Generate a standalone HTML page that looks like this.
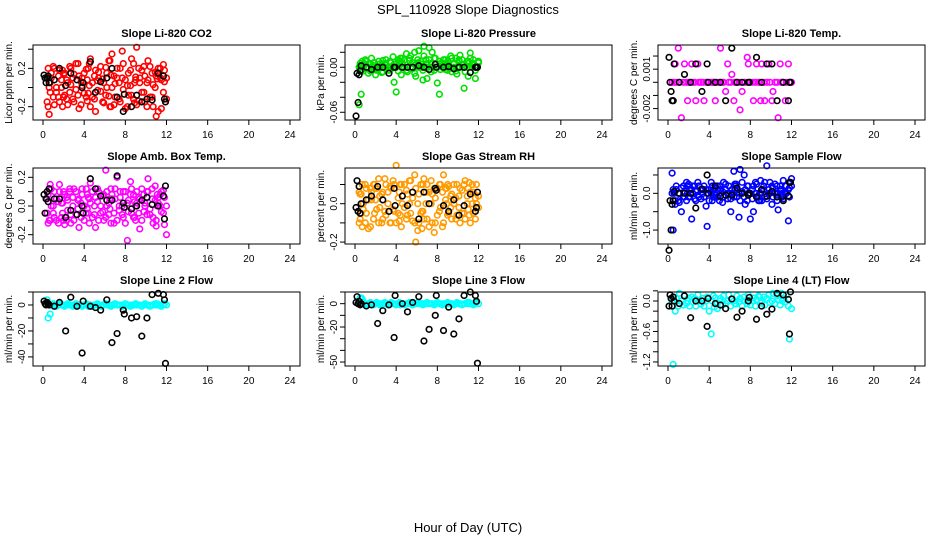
<!DOCTYPE html>
<html><head><meta charset="utf-8">
<style>
body{margin:0;background:#fff;}
svg{display:block;font-family:"Liberation Sans",Arial,sans-serif;}
</style></head>
<body>
<svg id="chart" width="936" height="540" viewBox="0 0 936 540">
<text x="468" y="14" text-anchor="middle" font-size="13">SPL_110928  Slope Diagnostics</text>
<text x="468" y="532" text-anchor="middle" font-size="13">Hour of Day (UTC)</text>
</svg>
<script>
const xTicks = [0,4,8,12,16,20,24];
const hoursC = [0.4,0.5,0.7,0.8,1.0,1.1,1.3,1.5,1.6,1.8,1.9,2.1,2.3,2.4,2.6,2.7,2.9,3.0,3.2,3.4,3.5,3.7,3.8,4.0,4.2,4.3,4.5,4.6,4.8,5.0,5.1,5.3,5.4,5.6,5.8,5.9,6.1,6.2,6.4,6.6,6.7,6.9,7.0,7.2,7.4,7.5,7.7,7.8,8.0,8.2,8.3,8.5,8.6,8.8,9.0,9.1,9.3,9.4,9.6,9.8,9.9,10.1,10.2,10.4,10.6,10.7,10.9,11.0,11.2,11.4,11.5,11.7,11.8,12.0,0.6,2.0,4.4,6.5,8.9,11.1];
const hoursB = [0.1,0.2,0.3,0.4,0.5,0.6,1.1,1.6,2.2,2.7,3.3,3.8,3.9,4.6,5.1,5.6,6.2,6.7,7.2,7.8,7.9,8.6,9.1,9.6,10.1,10.6,11.2,11.7,11.8,11.9];

const co2C = [0.1,-0.2,0.05,0.15,-0.1,0.2,-0.05,0.12,-0.15,0.0,0.18,-0.08,0.08,-0.18,0.22,0.03,-0.12,0.14,-0.02,0.25,-0.22,0.06,0.1,-0.06,0.19,-0.14,0.02,0.3,-0.1,0.12,-0.25,0.07,0.16,-0.04,0.09,-0.16,0.21,0.0,-0.09,0.13,0.35,-0.18,0.04,0.1,-0.12,0.2,0.38,-0.02,0.08,-0.2,0.15,0.02,-0.08,0.25,0.11,0.42,-0.14,0.05,0.18,-0.05,0.12,-0.2,0.08,0.22,-0.1,0.03,0.16,-0.3,0.2,0.1,-0.22,0.24,0.06,-0.12,-0.28,0.14,-0.06,0.28,-0.16,0.09];
const co2C2 = [-0.15,0.2,-0.05,0.1,0.22,-0.18,0.0,-0.1,0.18,0.08,-0.2,0.15,-0.12,0.05,-0.05,0.2,0.1,-0.15,0.25,-0.08,0.12,-0.18,0.02,0.15,-0.1,0.08,0.25,-0.2,0.05,-0.12,0.18,-0.03,0.1,0.22,-0.15,0.05,-0.08,0.15,0.28,-0.2,0.0,0.12,-0.1,0.2,0.05,-0.15,0.1,0.25,-0.22,0.02,-0.08,0.18,0.3,-0.12,0.08,-0.18,0.2,0.1,-0.05,0.22,-0.15,0.05,0.28,-0.1,0.15,-0.2,0.0,0.12,-0.25,0.2,0.08,-0.05,0.18,0.1,0.0,-0.1,0.2,-0.2,0.05,0.15];
const co2B = [0.13,0.1,0.05,0.1,0.12,0.05,0.08,0.2,0.02,0.15,0.08,0.0,0.05,0.27,-0.05,0.06,0.1,0.2,-0.1,-0.25,-0.07,-0.2,-0.08,-0.15,-0.12,-0.13,0.15,0.12,-0.12,-0.15];
const presC = [-0.05,0.002,0.008,-0.005,0.01,0.0,-0.008,0.005,0.012,-0.003,0.006,0.0,-0.002,0.004,-0.007,0.009,0.0,0.003,-0.004,0.008,0.0,0.014,-0.02,-0.033,0.01,0.005,-0.01,0.012,0.0,0.018,-0.006,0.009,0.015,-0.002,0.02,-0.012,0.006,0.022,0.0,-0.017,0.028,0.01,-0.015,0.026,0.005,0.02,-0.004,0.012,-0.021,-0.036,0.005,0.0,0.01,-0.003,0.008,0.003,0.015,-0.006,0.0,0.012,-0.009,0.01,0.016,0.004,-0.028,0.0,0.008,-0.012,0.019,0.004,0.01,-0.015,0.0,0.008,-0.036,-0.01,0.012,0.004,0.0,0.006];
const presC2 = [0.0,0.005,-0.003,0.0,0.004,0.008,0.0,-0.005,0.0,0.006,0.002,-0.004,0.008,0.0,0.003,-0.006,0.005,0.01,0.0,-0.004,0.006,0.0,0.004,0.0,-0.005,0.008,0.0,0.005,0.01,-0.004,0.0,0.012,0.0,0.006,-0.008,0.004,0.01,0.0,0.008,-0.004,0.015,0.0,0.005,0.01,-0.006,0.0,0.012,0.004,0.0,0.008,-0.003,0.005,0.0,0.01,-0.004,0.006,0.0,0.012,0.004,-0.005,0.0,0.008,0.0,0.01,0.004,-0.006,0.0,0.008,0.012,0.0,0.005,-0.004,0.0,0.006,0.002,0.0,0.008,0.0,0.004,0.0];
const presB = [-0.065,-0.008,-0.047,-0.01,-0.005,0.002,0.0,-0.003,0.0,0.0,-0.008,0.0,0.0,0.0,0.0,0.0,0.002,0.0,-0.003,0.004,0.0,0.0,0.001,-0.002,0.0,0.0,-0.007,0.0,0.0,0.0];
const tempC = [0,-0.0014,0.0014,0,0.0026,0,-0.0027,0,0.0014,0,-0.0014,0,0.0014,0,0,-0.0014,0.0014,0,0,0,-0.0014,0,0,0,0,0,0,-0.0014,0,0,0.0026,0,0,-0.0007,0.0014,0,0,0.0006,-0.0014,0,0,0,-0.0021,-0.0007,0,0,0.0019,0.0014,0,0,-0.0014,0,0.0014,0,-0.0014,0.0014,0,-0.0014,0,0.0014,0,-0.0014,-0.0007,0,0,-0.0027,0.0014,0,0,-0.0014,0,0.0014,0,0,0,0,0,0,0,0];
const tempB = [0.0019,0,-0.0007,-0.0014,-0.0014,0.0014,0,0.0006,0,0.0014,-0.0007,0.0014,0,0,0,-0.0014,0.0026,0,0,0,0,0.0019,0,0.0014,0.0014,-0.0014,0,-0.0014,0,0];
const boxC = [0.05,-0.12,0.15,0.0,-0.05,0.1,-0.1,0.03,0.15,-0.08,0.02,-0.13,0.06,-0.03,0.1,-0.12,0.0,0.12,-0.06,0.04,-0.15,0.02,0.08,-0.1,0.12,-0.02,0.05,0.16,-0.08,0.0,-0.15,0.03,0.1,-0.05,0.07,-0.1,0.25,0.0,-0.06,0.12,0.08,-0.12,0.05,0.2,-0.03,0.1,0.0,-0.08,0.1,-0.24,0.04,0.17,-0.05,0.08,-0.1,0.02,0.06,-0.16,0.12,-0.04,0.0,0.1,0.19,-0.06,0.05,-0.12,0.14,-0.14,0.02,0.08,-0.04,0.11,-0.13,-0.2,0.12,-0.1,0.06,-0.02,0.03,0.08];
const boxC2 = [-0.05,0.08,-0.1,0.12,0.0,-0.08,0.05,-0.12,0.1,0.02,-0.05,0.08,-0.1,0.04,0.12,-0.06,0.06,-0.1,0.1,-0.02,0.05,-0.08,0.12,0.0,-0.05,0.08,-0.12,0.02,0.1,-0.06,0.06,0.12,-0.1,0.0,-0.04,0.08,-0.08,0.1,0.02,-0.12,0.05,-0.05,0.12,-0.1,0.0,0.06,-0.06,0.1,-0.12,0.02,-0.04,0.08,0.12,-0.08,0.0,0.1,-0.05,0.05,-0.1,0.08,0.02,-0.06,0.1,-0.02,0.12,-0.08,0.04,-0.1,0.06,0.0,0.1,-0.05,0.06,0.0,-0.1,0.1,-0.05,0.05,-0.08,0.0];
const boxB = [0.08,-0.05,0.05,0.1,0.03,0.12,0.05,0.05,-0.08,-0.03,-0.06,0.0,-0.05,0.19,0.12,0.07,0.04,0.04,0.21,0.02,-0.01,-0.02,0.0,0.04,0.06,0.01,0.0,0.07,-0.09,0.14];
const rhC = [-0.1,0.05,-0.12,0.0,0.1,-0.05,-0.13,0.08,0.02,-0.08,0.1,-0.03,0.13,0.04,-0.1,0.06,0.13,-0.06,0.0,0.09,-0.1,0.12,-0.04,0.2,0.03,-0.09,0.1,0.04,-0.02,0.07,-0.06,0.0,0.12,-0.09,0.15,-0.2,-0.14,0.05,0.1,-0.04,0.13,0.0,-0.08,0.06,0.12,-0.1,-0.15,0.03,0.08,-0.04,0.1,-0.12,0.15,0.02,-0.06,0.09,-0.02,0.05,0.0,-0.08,0.1,0.04,-0.1,0.07,-0.05,0.12,0.0,-0.03,0.06,0.1,-0.05,0.03,0.0,-0.02,0.05,0.02,-0.06,-0.13,0.08,0.11];
const rhC2 = [0.06,-0.08,0.1,-0.03,-0.1,0.08,0.02,-0.12,0.06,0.1,-0.05,0.08,-0.1,-0.02,0.05,-0.08,-0.04,0.1,0.06,-0.1,0.08,-0.03,0.1,-0.1,-0.05,0.06,-0.12,0.0,0.1,-0.08,0.05,0.12,-0.05,0.03,-0.1,0.08,0.0,-0.1,-0.05,0.1,-0.08,0.06,0.1,-0.12,0.0,0.05,0.08,-0.1,-0.06,0.1,-0.02,0.06,-0.1,0.08,0.1,-0.05,0.04,-0.08,0.1,0.03,-0.06,-0.02,0.08,-0.05,0.1,-0.08,0.04,0.08,-0.1,0.0,0.06,-0.08,0.1,0.04,-0.05,0.08,0.1,-0.04,0.0,-0.06];
const rhB = [-0.02,0.12,-0.04,0.09,-0.05,0.0,0.02,0.04,0.09,0.02,-0.04,0.08,-0.01,0.04,-0.01,0.06,-0.08,0.06,0.0,0.08,0.07,-0.01,-0.04,0.02,-0.06,-0.01,0.05,-0.04,-0.02,0.06];
const flowC = [0.55,-1.0,-0.3,0.1,-0.2,0.0,-0.5,0.2,-0.1,0.3,0.0,0.1,-0.7,0.2,-0.15,0.05,0.3,-0.1,0.1,0.0,0.2,-0.35,-0.9,0.1,0.3,-0.2,0.0,0.15,-0.1,0.2,0.0,-0.25,0.3,0.1,-0.15,0.0,-0.5,0.1,0.6,0.2,-0.1,-0.65,0.65,0.05,0.5,-0.3,0.2,0.0,-0.7,0.1,-0.5,0.3,0.0,-0.2,0.35,0.1,0.2,-0.1,0.75,0.0,0.3,-0.3,0.15,0.0,0.2,-0.45,0.1,-0.1,0.35,0.0,0.2,-0.75,0.15,0.4,0.05,0.25,-0.1,0.1,-0.2,0.0];
const flowC2 = [0.0,0.1,-0.2,0.2,0.0,-0.25,0.15,-0.1,0.05,-0.2,0.2,-0.1,0.1,0.0,0.2,-0.2,-0.05,0.2,-0.15,0.1,-0.1,0.1,0.0,-0.2,0.0,0.2,-0.1,-0.05,0.2,-0.2,0.1,0.05,-0.1,0.25,0.0,0.2,-0.15,0.0,-0.1,0.25,0.1,0.0,-0.2,0.3,-0.1,0.1,-0.2,0.2,0.0,-0.15,0.2,0.0,0.25,-0.1,0.0,-0.2,0.1,0.3,-0.15,0.1,0.0,0.2,-0.1,0.25,-0.2,0.0,0.2,0.1,-0.15,0.2,0.0,0.1,-0.1,0.2,0.0,-0.1,0.1,0.25,0.0,-0.1];
const flowB = [-1.55,-0.2,-1.0,-0.3,-0.2,0.05,0.0,0.0,0.0,-0.4,0.12,0.5,0.0,0.2,-0.08,-0.05,-0.05,0.15,0.0,-0.05,0.0,-0.1,0.1,-0.08,0.05,-0.1,-0.2,-0.07,0.3,0.3];
const line2C = [4,-10,-7,0,1,0,-1,0,1,0,0,-1,0,1,0,0,-1,0,1,0,0,0,-1,0,1,0,0,0,-1,0,0,1,0,-1,0,0,1,0,0,-1,0,0,1,0,0,0,-1,0,1,0,0,-1,0,0,1,0,0,0,-1,0,1,0,0,-1,0,0,1,0,0,0,-1,0,1,0,0,0,-1,0,0,1];
const line2B = [3,1,0,2,1,0,-1,2,-20,6,-1,-37,3,-1,-2,-4,4,-29,-22,-4,-7,-10,-9,-24,-10,8,9,8,4,-45];
const line3C = [0,5,4,1,0,-1,0,1,0,-1,0,1,0,-1,0,0,1,0,-1,0,1,0,0,-1,0,1,0,0,-1,0,0,1,0,-1,0,0,1,0,0,-1,0,0,1,0,0,0,-1,0,1,0,0,-1,0,0,1,0,0,0,-1,0,1,0,0,-1,0,0,1,0,0,0,-1,0,1,0,5,0,-1,0,0,1];
const line3B = [1,6,0,2,-1,0,-2,-1,-17,-6,-1,-29,7,0,-7,1,6,-32,-22,-10,7,-23,-3,-26,-13,7,10,7,2,-51];
const line4C = [0.0,-1.25,-0.2,0.05,-0.1,0.15,0.0,-0.08,0.1,-0.05,0.0,-0.1,0.08,-0.02,0.05,-0.1,0.12,0.0,-0.06,0.05,-0.1,0.0,0.08,-0.2,-0.65,0.0,-0.12,0.06,-0.15,0.0,0.05,-0.08,0.1,-0.05,0.0,0.12,-0.1,0.04,0.0,-0.06,0.1,-0.02,0.05,-0.1,0.08,0.0,-0.05,0.12,-0.08,0.0,0.06,-0.1,0.03,0.1,-0.04,0.0,0.08,-0.08,0.05,0.12,-0.03,0.0,0.15,-0.05,0.1,0.02,-0.08,0.15,0.05,-0.02,0.12,-0.1,-0.75,-0.15,0.0,0.06,0.1,-0.05,0.08,0.0];
const line4B = [-0.1,0.12,0.05,-0.1,0.08,0.0,-0.05,0.1,-0.33,0.0,0.0,-0.5,0.05,-0.05,-0.08,-0.15,0.04,-0.32,-0.2,0.0,0.07,-0.36,-0.1,-0.26,-0.16,0.15,0.12,0.03,-0.65,0.18];

const NS = "http://www.w3.org/2000/svg";
const svg = document.getElementById("chart");
function mk(tag, attrs, parent){ const e=document.createElementNS(NS,tag); for(const k in attrs) e.setAttribute(k,attrs[k]); (parent||svg).appendChild(e); return e; }

const colX = [33, 345, 658];
const rowY = [[45,120],[168,244],[292,366]];
const panels = [
 {name:"co2", title:"Slope Li-820 CO2", ylab:"Licor ppm per min.", top:0.444, bot:-0.339, ticks:[0.4,0.2,0.0,-0.2], labels:{"0.2":"0.2","-0.2":"-0.2"}, col:"#ff0000", c:co2C, c2:co2C2, b:co2B},
 {name:"pressure", title:"Slope Li-820 Pressure", ylab:"kPa per min.", top:0.0297, bot:-0.0703, ticks:[0.02,0,-0.02,-0.04,-0.06], labels:{"0":"0.00","-0.06":"-0.06"}, col:"#00e000", c:presC, c2:presC2, b:presB},
 {name:"temp", title:"Slope Li-820 Temp.", ylab:"degrees C per min.", top:0.00284, bot:-0.00287, ticks:[0.002,0.001,0,-0.001,-0.002], labels:{"0.001":"0.001","-0.002":"-0.002"}, col:"#ff00ff", c:tempC, c2:[], b:tempB},
 {name:"amb-box-temp", title:"Slope Amb. Box Temp.", ylab:"degrees C per min.", top:0.265, bot:-0.265, ticks:[0.2,0.1,0,-0.1,-0.2], labels:{"0.2":"0.2","0":"0.0","-0.2":"-0.2"}, col:"#ff00ff", c:boxC, c2:boxC2, b:boxB},
 {name:"gas-stream-rh", title:"Slope Gas Stream RH", ylab:"percent per min.", top:0.186, bot:-0.21, ticks:[0.1,0,-0.1,-0.2], labels:{"0":"0.0","-0.2":"-0.2"}, col:"#ff9a00", c:rhC, c2:rhC2, b:rhB},
 {name:"sample-flow", title:"Slope Sample Flow", ylab:"ml/min per min.", top:0.69, bot:-1.38, ticks:[0.5,0,-0.5,-1.0], labels:{"0":"0.0","-1":"-1.0"}, col:"#0000ff", c:flowC, c2:flowC2, b:flowB},
 {name:"line2-flow", title:"Slope Line 2 Flow", ylab:"ml/min per min.", top:10, bot:-47, ticks:[10,0,-10,-20,-30,-40], labels:{"0":"0","-20":"-20","-40":"-40"}, col:"#00ffff", c:line2C, c2:[], b:line2B},
 {name:"line3-flow", title:"Slope Line 3 Flow", ylab:"ml/min per min.", top:10, bot:-53.4, ticks:[10,0,-10,-20,-30,-40,-50], labels:{"0":"0","-20":"-20","-50":"-50"}, col:"#00ffff", c:line3C, c2:[], b:line3B},
 {name:"line4-flow", title:"Slope Line 4 (LT) Flow", ylab:"ml/min per min.", top:0.177, bot:-1.28, ticks:[0.2,0,-0.2,-0.4,-0.6,-0.8,-1.0,-1.2], labels:{"0":"0.0","-0.6":"-0.6","-1.2":"-1.2"}, col:"#00ffff", c:line4C, c2:[], b:line4B}
];

panels.forEach((p,i)=>{
  const L = colX[i%3], R = L+267, T = rowY[Math.floor(i/3)][0], B = rowY[Math.floor(i/3)][1];
  const xs = h => L + 10 + h*(R-L-20)/24;
  const ys = v => T + (p.top - v)/(p.top - p.bot)*(B-T);
  const g = mk("g",{});
  
  
  const t = mk("text",{x:(L+R)/2, y:T-8, "text-anchor":"middle","font-size":"11","font-weight":"bold"}, g);
  t.textContent = p.title;
  
  
  const yl = mk("text",{transform:`translate(${L-21},${(T+B)/2}) rotate(-90)`,"text-anchor":"middle","font-size":"10"}, g);
  yl.textContent = p.ylab;
  
  
  xTicks.forEach(h=>{
    mk("line",{x1:xs(h),x2:xs(h),y1:B,y2:B+5,stroke:"#000","stroke-width":1}, g);
    const tl = mk("text",{x:xs(h), y:B+18, "text-anchor":"middle","font-size":"10"}, g);
    tl.textContent = h;
    
    
  });
  p.ticks.forEach(v=>{
    mk("line",{x1:L-5,x2:L,y1:ys(v),y2:ys(v),stroke:"#000","stroke-width":1}, g);
    const key = String(v);
    if(p.labels[key]!==undefined){
      const tl = mk("text",{transform:`translate(${L-8},${ys(v)}) rotate(-90)`,"text-anchor":"middle","font-size":"10"}, g);
      tl.textContent = p.labels[key];
      
      
    }
  });
  [p.c, p.c2].forEach(arr=>{
    const n1 = Math.min(hoursC.length, arr.length);
    for(let k=0;k<n1;k++){
      const c = mk("circle",{cx:xs(hoursC[k]),cy:ys(arr[k]),r:2.8,fill:"none",stroke:p.col,"stroke-width":1.6}, g);
      
      
    }
  });
  const n2 = Math.min(hoursB.length, p.b.length);
  for(let k=0;k<n2;k++){
    const c = mk("circle",{cx:xs(hoursB[k]),cy:ys(p.b[k]),r:2.8,fill:"none",stroke:"#000","stroke-width":1.6}, g);
    
    
  }
  const bx = mk("rect",{x:L,y:T,width:R-L,height:B-T,fill:"none",stroke:"#000","stroke-width":1}, g);
  
  
});
</script>
</body></html>
